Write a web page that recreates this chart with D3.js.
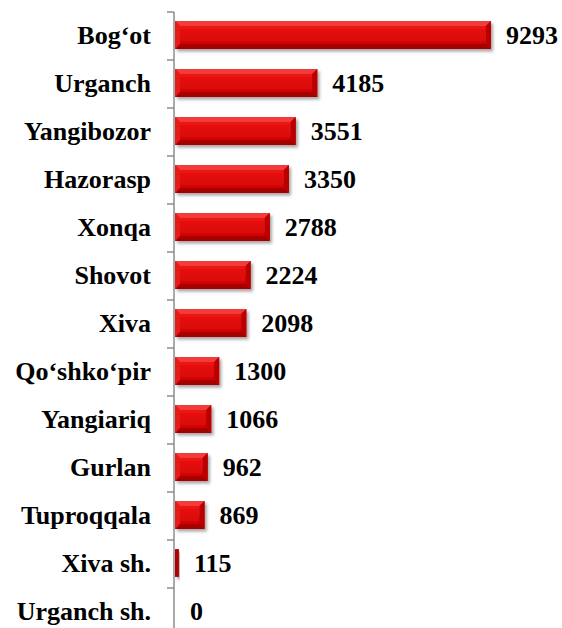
<!DOCTYPE html>
<html>
<head>
<meta charset="utf-8">
<script src="https://cdn.jsdelivr.net/npm/d3@7"></script>
<style>
  html, body { margin: 0; padding: 0; background: #fff; }
  svg { display: block; }
</style>
</head>
<body>
<svg id="chart" width="562" height="628"></svg>
<script>
const categories = ["Bog‘ot", "Urganch", "Yangibozor", "Hazorasp", "Xonqa", "Shovot", "Xiva", "Qo‘shko‘pir", "Yangiariq", "Gurlan", "Tuproqqala", "Xiva sh.", "Urganch sh."];
const values = [9293, 4185, 3551, 3350, 2788, 2224, 2098, 1300, 1066, 962, 869, 115, 0];

const FONT = "Liberation Serif";
const svg = d3.select("#chart");
const axisX = 174;
const x = d3.scaleLinear().domain([0, 10000]).range([axisX + 1, axisX + 1 + 340]);
const y = d3.scaleBand().domain(categories).range([12, 636]).paddingInner(0.42).paddingOuter(0.21);
const yOff = -1;

const defs = svg.append("defs");
const shadow = defs.append("filter").attr("id", "shadow").attr("x", "-20%").attr("y", "-30%").attr("width", "140%").attr("height", "180%");
shadow.append("feDropShadow").attr("dx", 2).attr("dy", 2.5).attr("stdDeviation", 1.6)
  .attr("flood-color", "#000").attr("flood-opacity", 0.35);

const face = defs.append("linearGradient").attr("id", "face").attr("x1", 0).attr("y1", 0).attr("x2", 0).attr("y2", 1);
face.append("stop").attr("offset", "0%").attr("stop-color", "#ec1414");
face.append("stop").attr("offset", "100%").attr("stop-color", "#d40404");

const data = categories.map((c, i) => ({ c, v: values[i] }));

const bars = svg.append("g").selectAll("g").data(data.filter(d => d.v > 0)).join("g")
  .attr("filter", "url(#shadow)");

bars.each(function(d) {
  const g = d3.select(this);
  const x0 = x(0), x1 = x(d.v);
  const y0 = y(d.c) + yOff, y1 = y0 + y.bandwidth();
  const w = x1 - x0, h = y1 - y0;
  const b = Math.min(5, w / 2, h / 2);
  if (w < 6) {
    g.append("rect").attr("x", x0).attr("y", y0).attr("width", w).attr("height", h).attr("fill", "#b00000");
    return;
  }
  g.append("rect").attr("x", x0).attr("y", y0).attr("width", w).attr("height", h).attr("fill", "#c80000");
  g.append("polygon").attr("points", [[x0, y0], [x1, y0], [x1 - b, y0 + b], [x0 + b, y0 + b]].join(" "))
    .attr("fill", "#f23a3a");
  g.append("polygon").attr("points", [[x0, y1], [x1, y1], [x1 - b, y1 - b], [x0 + b, y1 - b]].join(" "))
    .attr("fill", "#a30000");
  g.append("polygon").attr("points", [[x0, y0], [x0 + b, y0 + b], [x0 + b, y1 - b], [x0, y1]].join(" "))
    .attr("fill", "#e41a1a");
  g.append("polygon").attr("points", [[x1, y0], [x1 - b, y0 + b], [x1 - b, y1 - b], [x1, y1]].join(" "))
    .attr("fill", "#b80000");
  g.append("rect").attr("x", x0 + b).attr("y", y0 + b).attr("width", w - 2 * b).attr("height", h - 2 * b)
    .attr("fill", "url(#face)");
});

// axis
const axisG = svg.append("g").attr("transform", `translate(${axisX},0)`);
axisG.append("line").attr("x1", 0).attr("x2", 0).attr("y1", 12).attr("y2", 636)
  .attr("stroke", "#8c8c8c").attr("stroke-width", 1.5);
const boundaries = d3.range(categories.length + 1).map(i => y.range()[0] + i * y.step());
axisG.selectAll("line.tick").data(boundaries).join("line").attr("class", "tick")
  .attr("x1", -7).attr("x2", 0).attr("y1", d => d).attr("y2", d => d)
  .attr("stroke", "#8c8c8c").attr("stroke-width", 1.5);

// category labels
svg.append("g").selectAll("text").data(data).join("text")
  .attr("x", 151).attr("y", d => y(d.c) + y.bandwidth() / 2 + 9 + yOff)
  .attr("text-anchor", "end")
  .attr("font-family", FONT).attr("font-weight", "bold").attr("font-size", 26).attr("fill", "#000")
  .text(d => d.c);

// value labels
svg.append("g").selectAll("text").data(data).join("text")
  .attr("x", d => x(d.v) + 15).attr("y", d => y(d.c) + y.bandwidth() / 2 + 9 + yOff)
  .attr("text-anchor", "start")
  .attr("font-family", FONT).attr("font-weight", "bold").attr("font-size", 26).attr("fill", "#000")
  .text(d => d.v);
</script>
</body>
</html>
